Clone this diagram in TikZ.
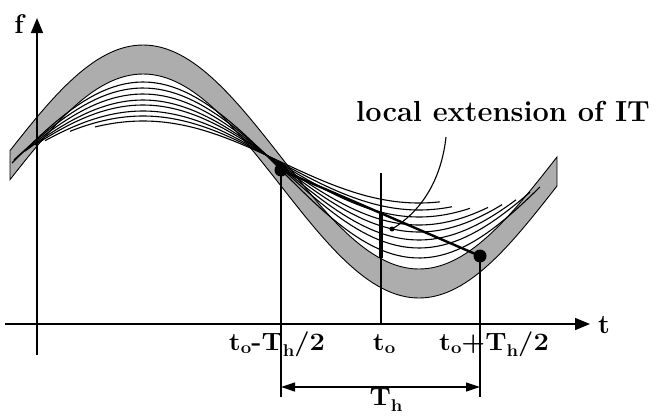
\documentclass[tikz,border=0pt]{standalone}
\usepackage{fontspec}
\usetikzlibrary{arrows.meta}
\newcommand\lowsub[2]{\raisebox{#1}{\fontsize{17}{17}\selectfont #2}}
\begin{document}
\begin{tikzpicture}[x=1pt,y=-1pt,
  declare function={w(\t)=sin(0.652174*(\t-5));},
  axis/.style={line width=1.6pt},
  vline/.style={line width=1.2pt},
  band/.style={fill=black!32, draw=black, line width=0.9pt},
  inner/.style={line width=1.1pt},
  bigdot/.style={circle, fill=black, inner sep=0pt, minimum size=13pt},
  smalldot/.style={circle, fill=black, inner sep=0pt, minimum size=5pt},
  lbl/.style={inner sep=0pt, font=\fontsize{25}{30}\selectfont\bfseries, anchor=base},
  axlbl/.style={inner sep=0pt, font=\fontsize{27}{32}\selectfont\bfseries, anchor=base},
  tip/.style={-{Triangle[length=15pt,width=12pt]}},
  dimarrow/.style={{Triangle[length=14pt,width=9pt]}-{Triangle[length=14pt,width=9pt]}, line width=1.2pt},
]
\useasboundingbox (0,0) rectangle (660,415);
% shaded band
\path[band] plot[domain=10:557,samples=120] (\x,{157-112*w(\x)})
  -- plot[domain=557:10,samples=120] (\x,{186-112*w(\x)}) -- cycle;
% inner curves
\foreach \m/\a/\s/\e in {170/88/12/540, 168/80/14/530, 167/73/18/516, 166/66/25/502,
                         165/60/35/488, 164/53/45/470, 163/47/70/452, 162/41/95/440}
  \draw[inner] plot[domain=\s:\e,samples=90] (\x,{\m-\a*w(\x)});
% axes
\coordinate (fbot) at (37,355);
\coordinate (ftop) at (37,18);
\coordinate (tleft) at (5,324);
\coordinate (tright) at (590,324);
\draw[axis,tip] (fbot) -- (ftop);
\draw[axis,tip] (tleft) -- (tright);
\node[axlbl] (flab) at (19,33) {f};
\node[axlbl] (tlab) at (604,333) {t};
% points and lines
\node[bigdot] (L) at (281,170) {};
\node[bigdot] (R) at (480,256) {};
\coordinate (Lbot) at (281,397);
\coordinate (Rbot) at (480,397);
\coordinate (t0top) at (381,173);
\coordinate (t0bot) at (381,324);
\coordinate (segtop) at (381,212);
\coordinate (segbot) at (381,258);
\draw[vline] (L.center) -- (Lbot);
\draw[vline] (R.center) -- (Rbot);
\draw[vline] (t0top) -- (t0bot);
\draw[line width=4pt] (segtop) -- (segbot);
\draw[line width=2.4pt] (L.center) -- (R.center);
% annotation
\node[inner sep=0pt, anchor=base west, font=\fontsize{29}{34}\selectfont\bfseries] (ann) at (356,121) {local extension of IT};
\coordinate (annstart) at (446,137);
\node[smalldot] (adot) at (392,229) {};
\draw[line width=1.1pt] (annstart) .. controls (441,182) and (420,212) .. (adot.center);
% dimension
\coordinate (dimL) at (281,387);
\coordinate (dimR) at (480,387);
\draw[dimarrow] (dimL) -- (dimR);
% labels
\node[lbl] (lminus) at (277,350) {\scalebox{1.09}[1]{t\lowsub{-3pt}{o}-T\lowsub{-6pt}{h}/2}};
\node[lbl] (lzero) at (384,350) {\scalebox{1.09}[1]{t\lowsub{-3pt}{o}}};
\node[lbl] (lplus) at (494,350) {\scalebox{1.09}[1]{t\lowsub{-3pt}{o}+T\lowsub{-6pt}{h}/2}};
\node[lbl] (lTh) at (386,405) {\scalebox{1.09}[1]{T\lowsub{-6pt}{h}}};
\end{tikzpicture}
\end{document}
